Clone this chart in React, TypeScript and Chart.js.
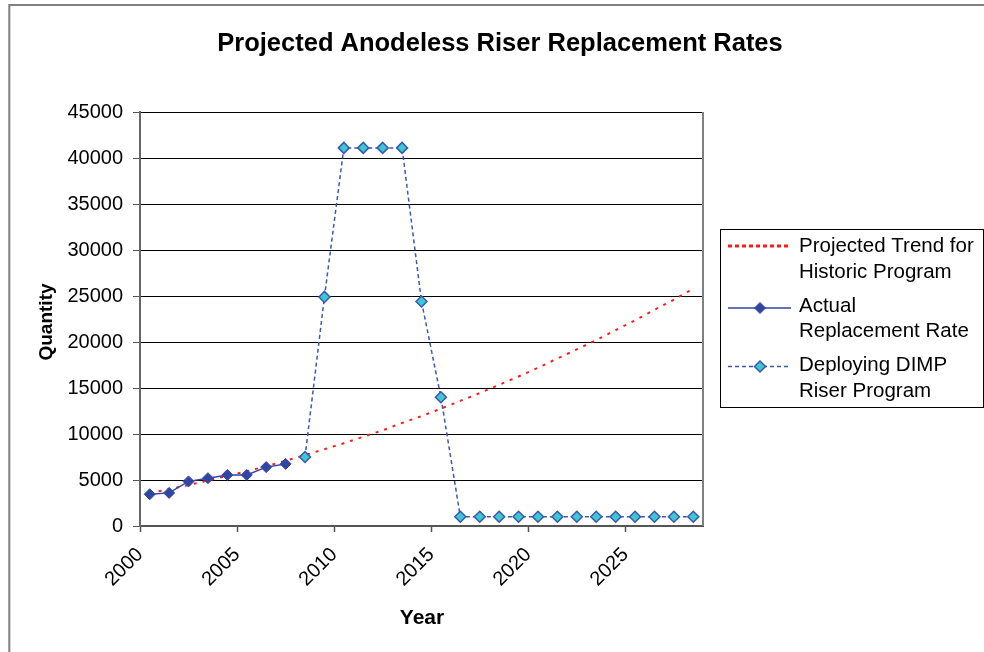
import { useEffect, useRef } from "react";
import { Chart, registerables } from "chart.js";

Chart.register(...registerables);

const FONT = "'Liberation Sans', Arial, Helvetica, sans-serif";

const chartTitle = "Projected Anodeless Riser Replacement Rates";
const xAxisTitle = "Year";
const yAxisTitle = "Quantity";

const tickYears = [2000, 2005, 2010, 2015, 2020, 2025];
const xMin = 2000;
const xMax = 2029;
const yMin = 0;
const yMax = 45000;
const yStep = 5000;

const trendYears = [
  2000, 2001, 2002, 2003, 2004, 2005, 2006, 2007, 2008, 2009, 2010, 2011, 2012, 2013, 2014,
  2015, 2016, 2017, 2018, 2019, 2020, 2021, 2022, 2023, 2024, 2025, 2026, 2027, 2028,
];
const trendValues = [
  3600, 4000, 4450, 4950, 5450, 5950, 6500, 7100, 7700, 8350, 9000, 9700, 10400, 11200, 11950,
  12750, 13600, 14450, 15350, 16250, 17200, 18200, 19200, 20200, 21300, 22350, 23500, 24600, 25800,
];

const actualYears = [2000, 2001, 2002, 2003, 2004, 2005, 2006, 2007];
const actualValues = [3450, 3600, 4850, 5200, 5550, 5550, 6400, 6750];

const dimpYears = [
  2008, 2009, 2010, 2011, 2012, 2013, 2014, 2015, 2016, 2017, 2018, 2019, 2020, 2021, 2022,
  2023, 2024, 2025, 2026, 2027, 2028,
];
const dimpValues = [
  7500, 24900, 41100, 41100, 41100, 41100, 24400, 14000, 1000, 1000, 1000, 1000, 1000, 1000,
  1000, 1000, 1000, 1000, 1000, 1000, 1000,
];

const seriesNames = [
  ["Projected Trend for", "Historic Program"],
  ["Actual", "Replacement Rate"],
  ["Deploying DIMP", "Riser Program"],
];

// values are plotted at mid-year
const toPoints = (years: number[], values: number[]) =>
  years.map((yr, i) => ({ x: yr + 0.5, y: values[i] }));

const RED = "#ff1a1a";
const NAVY = "#3345a3";
const DIMP_LINE = "#3b57b5";
const DIMP_FILL = "#3cc8cc";

function diamond(ctx: CanvasRenderingContext2D, x: number, y: number, r: number, fill: string, stroke: string, lw: number) {
  ctx.save();
  ctx.setLineDash([]);
  ctx.beginPath();
  ctx.moveTo(x - r, y);
  ctx.lineTo(x, y - r);
  ctx.lineTo(x + r, y);
  ctx.lineTo(x, y + r);
  ctx.closePath();
  ctx.fillStyle = fill;
  ctx.fill();
  ctx.lineWidth = lw;
  ctx.strokeStyle = stroke;
  ctx.stroke();
  ctx.restore();
}

const decorPlugin = {
  id: "decor",
  afterDraw(chart: any) {
    const ctx: CanvasRenderingContext2D = chart.ctx;
    const area = chart.chartArea;
    ctx.save();

    // outer frame
    ctx.strokeStyle = "#808080";
    ctx.lineWidth = 2;
    ctx.setLineDash([]);
    ctx.beginPath();
    ctx.moveTo(9.3, 700);
    ctx.lineTo(9.3, 5);
    ctx.lineTo(1000, 5);
    ctx.stroke();

    // right border of plot area
    ctx.beginPath();
    ctx.moveTo(area.right, area.top);
    ctx.lineTo(area.right, area.bottom);
    ctx.stroke();

    // title
    ctx.fillStyle = "#000";
    ctx.textAlign = "center";
    ctx.textBaseline = "alphabetic";
    ctx.font = `bold 25.5px ${FONT}`;
    ctx.fillText(chartTitle, 500, 51);

    // x title
    ctx.font = `bold 21px ${FONT}`;
    ctx.fillText(xAxisTitle, 422, 624);

    // y title
    ctx.save();
    ctx.translate(52, 322);
    ctx.rotate(-Math.PI / 2);
    ctx.font = `bold 19px ${FONT}`;
    ctx.fillText(yAxisTitle, 0, 0);
    ctx.restore();

    // legend box
    ctx.lineWidth = 1;
    ctx.strokeStyle = "#000";
    ctx.strokeRect(720.5, 229.5, 263, 178);

    const ds = chart.data.datasets;
    const sampleY = [246, 308, 366.5];
    const baselines = [
      [252.3, 278.3],
      [311.5, 337],
      [370.5, 396.7],
    ];
    ds.forEach((d: any, i: number) => {
      const y = sampleY[i];
      ctx.save();
      ctx.strokeStyle = d.borderColor;
      if (i === 0) {
        ctx.lineWidth = 3;
        ctx.setLineDash([4, 3]);
      } else {
        ctx.lineWidth = 1.5;
        ctx.setLineDash(d.borderDash || []);
      }
      ctx.beginPath();
      ctx.moveTo(728, y);
      ctx.lineTo(791, y);
      ctx.stroke();
      ctx.restore();
      if (d.pointRadius > 0) {
        diamond(ctx, 760, y, d.pointRadius, d.pointBackgroundColor, d.pointBorderColor, d.pointBorderWidth);
      }
      ctx.fillStyle = "#000";
      ctx.textAlign = "left";
      ctx.textBaseline = "alphabetic";
      ctx.font = `20.5px ${FONT}`;
      seriesNames[i].forEach((line, j) => {
        ctx.fillText(line, 799, baselines[i][j]);
      });
    });

    ctx.restore();
  },
};

export default function App() {
  const canvasRef = useRef<HTMLCanvasElement | null>(null);

  useEffect(() => {
    if (!canvasRef.current) return;
    const chart = new Chart(canvasRef.current, {
      type: "line",
      data: {
        datasets: [
          {
            label: seriesNames[0].join(" "),
            data: toPoints(trendYears, trendValues),
            borderColor: RED,
            borderWidth: 2,
            borderDash: [3, 6],
            pointRadius: 0,
            fill: false,
            tension: 0,
            order: 3,
          },
          {
            label: seriesNames[1].join(" "),
            data: toPoints(actualYears, actualValues),
            borderColor: NAVY,
            borderWidth: 1.5,
            pointStyle: "rectRot",
            pointRadius: 5.5,
            pointBackgroundColor: NAVY,
            pointBorderColor: NAVY,
            pointBorderWidth: 1,
            fill: false,
            tension: 0,
            order: 1,
          },
          {
            label: seriesNames[2].join(" "),
            data: toPoints(dimpYears, dimpValues),
            borderColor: DIMP_LINE,
            borderWidth: 1.5,
            borderDash: [4, 3],
            pointStyle: "rectRot",
            pointRadius: 5.5,
            pointBackgroundColor: DIMP_FILL,
            pointBorderColor: DIMP_LINE,
            pointBorderWidth: 1.5,
            fill: false,
            tension: 0,
            order: 2,
          },
        ] as any,
      },
      options: {
        animation: false,
        responsive: false,
        layout: { padding: { left: 0, top: 112, right: 281, bottom: 0 } },
        plugins: {
          legend: { display: false },
          title: { display: false },
          tooltip: { enabled: false },
        },
        scales: {
          x: {
            type: "linear",
            min: xMin,
            max: xMax,
            afterBuildTicks: (s: any) => {
              s.ticks = tickYears.map((v) => ({ value: v }));
            },
            afterFit: (s: any) => {
              s.height = 126;
            },
            grid: {
              drawOnChartArea: false,
              drawTicks: true,
              tickLength: 6,
              tickColor: "#555",
              tickWidth: 1.5,
            },
            border: { color: "#555", width: 2 },
            ticks: {
              autoSkip: false,
              minRotation: 45,
              maxRotation: 45,
              padding: 11,
              color: "#000",
              font: { family: FONT, size: 20 },
              callback: (v: any) => String(v),
            },
          },
          y: {
            min: yMin,
            max: yMax,
            afterFit: (s: any) => {
              s.width = 140;
            },
            grid: {
              color: "#000",
              lineWidth: 1,
              tickLength: 7,
              tickColor: "#555",
            },
            border: { color: "#666", width: 2 },
            ticks: {
              stepSize: yStep,
              padding: 10,
              color: "#000",
              font: { family: FONT, size: 20 },
              callback: (v: any) => String(v),
            },
          },
        },
      },
      plugins: [decorPlugin],
    } as any);
    return () => chart.destroy();
  }, []);

  return (
    <div style={{ position: "absolute", left: 0, top: 0, width: 984, height: 652, background: "#fff" }}>
      <canvas ref={canvasRef} width={984} height={652} style={{ display: "block" }} />
    </div>
  );
}
